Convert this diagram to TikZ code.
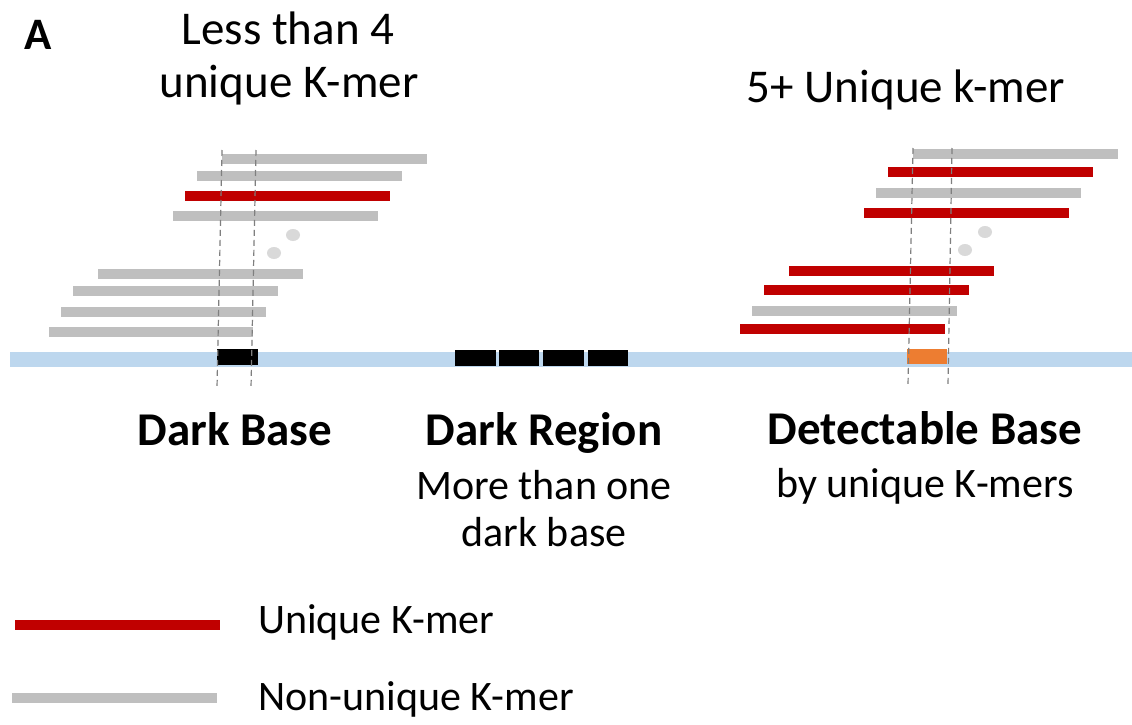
\documentclass[tikz,border=0pt]{standalone}
\usepackage{fontspec}
\setmainfont{Carlito}
\definecolor{kred}{HTML}{C00000}
\definecolor{kgray}{HTML}{BFBFBF}
\definecolor{refblue}{HTML}{BDD7EE}
\definecolor{hitorange}{HTML}{ED7D31}
\definecolor{dotgray}{HTML}{D9D9D9}
\definecolor{guidegray}{HTML}{7F7F7F}
\begin{document}
\begin{tikzpicture}[x=1pt,y=-1pt,
  kmer/.style={line width=10pt},
  uniq/.style={kmer,draw=kred},
  nonuniq/.style={kmer,draw=kgray},
  gap/.style={fill=dotgray},
  guide/.style={draw=guidegray,line width=1.2pt,dash pattern=on 6pt off 4pt},
  darkbase/.style={fill=black},
  head/.style={font=\fontsize{47}{52}\selectfont,anchor=base,inner sep=0pt},
  title/.style={font=\bfseries\fontsize{47}{52}\selectfont,anchor=base,inner sep=0pt},
  sub/.style={font=\fontsize{42}{46}\selectfont,anchor=base,inner sep=0pt},
  legend/.style={font=\fontsize{42}{46}\selectfont,anchor=base west,inner sep=0pt}]
\useasboundingbox (0,0) rectangle (1132,725);
\fill[white] (0,0) rectangle (1132,725);

% panel label and headings
\node[anchor=base west,inner sep=0pt,font=\bfseries\fontsize{45}{50}\selectfont] (panel) at (24,49) {A};
\node[head] (lessA) at (288,45) {Less than 4};
\node[head] (lessB) at (289,97) {unique K-mer};
\node[head] (five) at (906,102) {5+ Unique k-mer};

% reference sequence
\fill[refblue] (10,352) rectangle (1132,367);

% left stack: k-mers covering a dark base
\draw[nonuniq] (222,158.5) -- (427,158.5);
\draw[nonuniq] (197,176) -- (402,176);
\draw[uniq]    (185,196) -- (390,196);
\draw[nonuniq] (173,216) -- (378,216);
\fill[gap] (293,235) ellipse (7 and 6);
\fill[gap] (274,253) ellipse (7 and 6);
\draw[nonuniq] (98,274) -- (303,274);
\draw[nonuniq] (73,291) -- (278,291);
\draw[nonuniq] (61,312) -- (266,312);
\draw[nonuniq] (49,332) -- (253,332);
\fill[darkbase] (217,349) rectangle (258,365);

% dark region: consecutive dark bases
\fill[darkbase] (455,350) rectangle (496,366);
\fill[darkbase] (499,350) rectangle (539,366);
\fill[darkbase] (543,350) rectangle (584,366);
\fill[darkbase] (588,350) rectangle (628,366);

% right stack: k-mers covering a detectable base
\draw[nonuniq] (913,154) -- (1118,154);
\draw[uniq]    (888,172) -- (1093,172);
\draw[nonuniq] (876,193) -- (1081,193);
\draw[uniq]    (864,213) -- (1069,213);
\fill[gap] (985,232) ellipse (7 and 6);
\fill[gap] (965,250) ellipse (7 and 6);
\draw[uniq]    (789,271) -- (994,271);
\draw[uniq]    (764,290) -- (969,290);
\draw[nonuniq] (752,311) -- (957,311);
\draw[uniq]    (740,329) -- (945,329);
\fill[hitorange] (907,349) rectangle (947,364);

% guides bounding each base
\coordinate (gLa) at (222,150); \coordinate (gLb) at (217,388);
\coordinate (gLc) at (256,150); \coordinate (gLd) at (251,388);
\coordinate (gRa) at (913,148); \coordinate (gRb) at (908,385);
\coordinate (gRc) at (952,148); \coordinate (gRd) at (948,385);
\draw[guide] (gLa) -- (gLb);
\draw[guide] (gLc) -- (gLd);
\draw[guide] (gRa) -- (gRb);
\draw[guide] (gRc) -- (gRd);

% captions
\node[title] (dbase) at (235,445) {Dark Base};
\node[title] (dregion) at (544,445) {Dark Region};
\node[sub] (dregA) at (544,499) {More than one};
\node[sub] (dregB) at (544,546) {dark base};
\node[title] (detect) at (925,444) {Detectable Base};
\node[sub] (detectA) at (925,497) {by unique K-mers};

% legend
\coordinate (lu1) at (15,625); \coordinate (lu2) at (220,625);
\coordinate (ln1) at (12,698); \coordinate (ln2) at (217,698);
\draw[uniq] (lu1) -- (lu2);
\draw[nonuniq] (ln1) -- (ln2);
\node[legend] (legU) at (258,633) {Unique K-mer};
\node[legend] (legN) at (258,710) {Non-unique K-mer};
\end{tikzpicture}
\end{document}
